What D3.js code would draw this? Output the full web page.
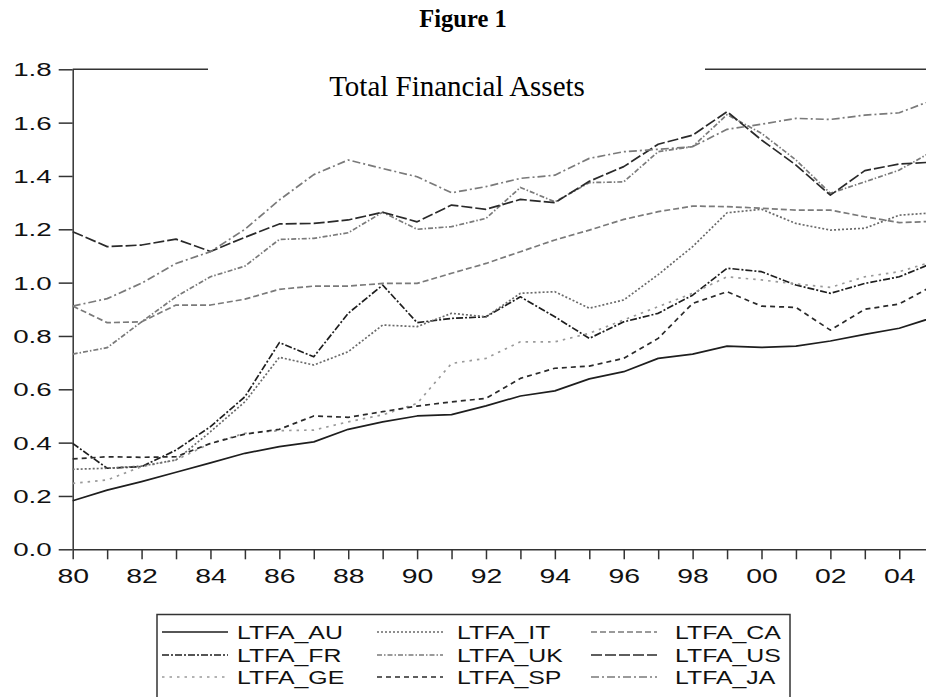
<!DOCTYPE html>
<html>
<head>
<meta charset="utf-8">
<script src="https://cdn.jsdelivr.net/npm/d3@7"></script>
<style>
  body { margin: 0; background: #fff; }
  svg { display: block; }
</style>
</head>
<body>
<div id="chart"></div>
<script>
var years = [1980, 1981, 1982, 1983, 1984, 1985, 1986, 1987, 1988, 1989, 1990, 1991, 1992,
  1993, 1994, 1995, 1996, 1997, 1998, 1999, 2000, 2001, 2002, 2003, 2004, 2005];

var ltfaAU = [0.182, 0.222, 0.254, 0.289, 0.324, 0.36, 0.385, 0.403, 0.45, 0.478, 0.50, 0.505, 0.538,
  0.575, 0.594, 0.639, 0.666, 0.716, 0.732, 0.762, 0.757, 0.762, 0.781, 0.806, 0.829, 0.87];
var ltfaFR = [0.397, 0.304, 0.31, 0.372, 0.46, 0.572, 0.775, 0.722, 0.885, 0.991, 0.85, 0.866, 0.872,
  0.947, 0.872, 0.791, 0.853, 0.885, 0.953, 1.054, 1.041, 0.991, 0.96, 0.997, 1.022, 1.075];
var ltfaGE = [0.247, 0.26, 0.31, 0.335, 0.397, 0.435, 0.445, 0.447, 0.478, 0.504, 0.547, 0.697, 0.716,
  0.778, 0.778, 0.81, 0.86, 0.91, 0.96, 1.022, 1.01, 0.995, 0.982, 1.022, 1.041, 1.08];
var ltfaIT = [0.30, 0.304, 0.312, 0.335, 0.441, 0.553, 0.72, 0.691, 0.741, 0.841, 0.835, 0.885, 0.872,
  0.96, 0.966, 0.904, 0.935, 1.03, 1.135, 1.262, 1.275, 1.222, 1.197, 1.204, 1.253, 1.262];
var ltfaUK = [0.732, 0.756, 0.853, 0.947, 1.022, 1.062, 1.162, 1.166, 1.187, 1.264, 1.20, 1.21, 1.241,
  1.357, 1.303, 1.375, 1.378, 1.491, 1.51, 1.63, 1.56, 1.46, 1.335, 1.378, 1.422, 1.495];
var ltfaSP = [0.339, 0.347, 0.345, 0.347, 0.397, 0.432, 0.45, 0.50, 0.495, 0.516, 0.537, 0.553, 0.566,
  0.641, 0.679, 0.687, 0.716, 0.791, 0.922, 0.966, 0.912, 0.907, 0.822, 0.90, 0.92, 0.99];
var ltfaCA = [0.912, 0.85, 0.853, 0.916, 0.916, 0.938, 0.975, 0.987, 0.987, 0.997, 0.997, 1.035, 1.072,
  1.116, 1.16, 1.197, 1.237, 1.266, 1.287, 1.285, 1.279, 1.272, 1.272, 1.247, 1.225, 1.23];
var ltfaUS = [1.191, 1.135, 1.141, 1.163, 1.117, 1.17, 1.22, 1.222, 1.235, 1.264, 1.228, 1.291, 1.275,
  1.312, 1.30, 1.38, 1.435, 1.519, 1.553, 1.641, 1.535, 1.441, 1.328, 1.42, 1.445, 1.452];
var ltfaJA = [0.912, 0.94, 0.998, 1.072, 1.116, 1.20, 1.31, 1.405, 1.46, 1.428, 1.397, 1.337, 1.36,
  1.391, 1.403, 1.466, 1.491, 1.50, 1.51, 1.575, 1.594, 1.616, 1.612, 1.628, 1.637, 1.686];

var yTicks = [0.0, 0.2, 0.4, 0.6, 0.8, 1.0, 1.2, 1.4, 1.6, 1.8];

// legend order is column by column, as in the figure
var series = [
  { name: "LTFA_AU", values: ltfaAU, color: "#1e1e1e", dash: null },
  { name: "LTFA_FR", values: ltfaFR, color: "#1e1e1e", dash: "7,2,2,2" },
  { name: "LTFA_GE", values: ltfaGE, color: "#9a9a9a", dash: "2.5,5" },
  { name: "LTFA_IT", values: ltfaIT, color: "#6a6a6a", dash: "2,2" },
  { name: "LTFA_UK", values: ltfaUK, color: "#7a7a7a", dash: "5,2,1.5,2" },
  { name: "LTFA_SP", values: ltfaSP, color: "#2a2a2a", dash: "5,4" },
  { name: "LTFA_CA", values: ltfaCA, color: "#7a7a7a", dash: "6,3" },
  { name: "LTFA_US", values: ltfaUS, color: "#2a2a2a", dash: "11,3" },
  { name: "LTFA_JA", values: ltfaJA, color: "#7a7a7a", dash: "8,3,2,3" }
];

var W = 926, H = 697;

var x = d3.scaleLinear()
  .domain([1980, 2005])
  .range([72.7, 933.7]);

var y = d3.scaleLinear()
  .domain([0, 1.8])
  .range([549.3, 69.3]);

var svg = d3.select("#chart")
  .append("svg")
  .attr("width", W)
  .attr("height", H)
  .style("overflow", "hidden");

// titles
svg.append("text")
  .attr("x", 463)
  .attr("y", 27)
  .attr("text-anchor", "middle")
  .style("font-family", "'Liberation Serif', 'Times New Roman', serif")
  .style("font-weight", "bold")
  .style("font-size", "24.5px")
  .text("Figure 1");

svg.append("text")
  .attr("x", 457)
  .attr("y", 96)
  .attr("text-anchor", "middle")
  .style("font-family", "'Liberation Serif', 'Times New Roman', serif")
  .style("font-size", "29px")
  .text("Total Financial Assets");

// top frame, broken where the title sits
var frame = svg.append("g")
  .attr("stroke", "#333")
  .attr("stroke-width", 1.5);
frame.append("line")
  .attr("x1", x(1980)).attr("x2", 208)
  .attr("y1", y(1.8)).attr("y2", y(1.8));
frame.append("line")
  .attr("x1", 705).attr("x2", W)
  .attr("y1", y(1.8)).attr("y2", y(1.8));

// axes
var axisY = d3.axisLeft(y)
  .tickValues(yTicks)
  .tickFormat(d3.format(".1f"))
  .tickSize(14)
  .tickSizeOuter(0);

var gy = svg.append("g")
  .attr("transform", "translate(" + x(1980) + ",0)")
  .call(axisY);
gy.select(".domain").attr("stroke", "#333").attr("stroke-width", 1.5);
gy.selectAll(".tick line").attr("stroke", "#333").attr("stroke-width", 1.5);
gy.selectAll(".tick text")
  .attr("x", -14)
  .attr("dy", "0.36em")
  .attr("transform", "scale(1.5,1)")
  .attr("fill", "#111")
  .style("font-family", "'Liberation Sans', Arial, sans-serif")
  .style("font-size", "18.5px");

var axisX = d3.axisBottom(x)
  .tickValues(years)
  .tickFormat(function(d) {
    return d % 2 === 0 ? d3.format("02d")(d % 100) : "";
  })
  .tickSize(10)
  .tickPadding(10)
  .tickSizeOuter(0);

var gx = svg.append("g")
  .attr("transform", "translate(0," + y(0) + ")")
  .call(axisX);
gx.select(".domain").attr("stroke", "#333").attr("stroke-width", 1.5);
gx.selectAll(".tick line").attr("stroke", "#333").attr("stroke-width", 1.5);
gx.selectAll(".tick text")
  .attr("transform", "scale(1.42,1)")
  .attr("fill", "#111")
  .style("font-family", "'Liberation Sans', Arial, sans-serif")
  .style("font-size", "20px");

// lines
var line = d3.line()
  .x(function(d, i) { return x(years[i]); })
  .y(function(d) { return y(d); });

svg.append("g")
  .selectAll("path")
  .data(series)
  .join("path")
  .attr("fill", "none")
  .attr("stroke", function(d) { return d.color; })
  .attr("stroke-width", 1.7)
  .attr("stroke-dasharray", function(d) { return d.dash; })
  .attr("stroke-linejoin", "round")
  .attr("d", function(d) { return line(d.values); });

// legend
var legend = svg.append("g");
legend.append("rect")
  .attr("x", 157)
  .attr("y", 614.5)
  .attr("width", 633)
  .attr("height", 120)
  .attr("fill", "none")
  .attr("stroke", "#333")
  .attr("stroke-width", 1.5);

var sampleX = [162, 377, 591];
var textX = [237, 457, 675];
var rowY = [632, 655, 677];

var item = legend.selectAll(".item")
  .data(series)
  .join("g")
  .attr("class", "item")
  .attr("transform", function(d, i) {
    return "translate(0," + rowY[i % 3] + ")";
  });

item.append("line")
  .attr("x1", function(d, i) { return sampleX[Math.floor(i / 3)]; })
  .attr("x2", function(d, i) { return sampleX[Math.floor(i / 3)] + 66; })
  .attr("stroke", function(d) { return d.color; })
  .attr("stroke-width", 1.3)
  .attr("stroke-dasharray", function(d) { return d.dash; });

item.append("text")
  .attr("x", function(d, i) { return textX[Math.floor(i / 3)] / 1.38; })
  .attr("y", 6.5)
  .attr("transform", "scale(1.38,1)")
  .attr("fill", "#111")
  .style("font-family", "'Liberation Sans', Arial, sans-serif")
  .style("font-size", "18px")
  .text(function(d) { return d.name; });
</script>
</body>
</html>
